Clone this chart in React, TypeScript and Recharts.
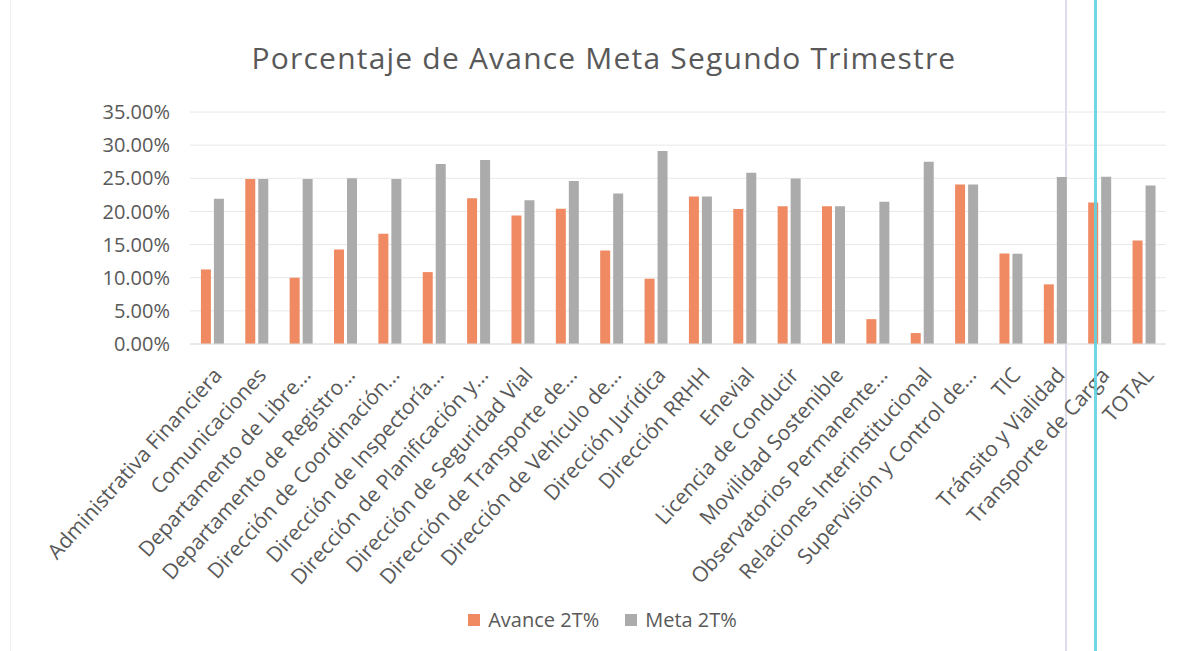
import React from 'react';
import { BarChart, Bar, XAxis, YAxis, CartesianGrid, Legend } from 'recharts';

const categories = [
  'Administrativa Financiera',
  'Comunicaciones',
  'Departamento de Libre...',
  'Departamento de Registro...',
  'Dirección de Coordinación...',
  'Dirección de Inspectoría...',
  'Dirección de Planificación y...',
  'Dirección de Seguridad Vial',
  'Dirección de Transporte de...',
  'Dirección de Vehículo de...',
  'Dirección Jurídica',
  'Dirección RRHH',
  'Enevial',
  'Licencia de Conducir',
  'Movilidad Sostenible',
  'Observatorios Permanente...',
  'Relaciones Interinstitucional',
  'Supervisión y Control de...',
  'TIC',
  'Tránsito y Vialidad',
  'Transporte de Carga',
  'TOTAL',
];

// Avance 2T% (percent)
const avance = [11.25, 24.9, 10.0, 14.25, 16.65, 10.85, 22.0, 19.4, 20.4, 14.1, 9.85, 22.25, 20.35, 20.8, 20.8, 3.75, 1.65, 24.05, 13.65, 9.0, 21.35, 15.6];
// Meta 2T% (percent)
const meta = [21.9, 24.9, 24.9, 25.0, 24.9, 27.15, 27.75, 21.7, 24.6, 22.7, 29.1, 22.25, 25.85, 24.95, 20.8, 21.45, 27.5, 24.05, 13.6, 25.2, 25.25, 23.9];

const yTicks = [0, 5, 10, 15, 20, 25, 30, 35];

const seriesNames = { avance: 'Avance 2T%', meta: 'Meta 2T%' };
const colors = { avance: '#EF8A62', meta: '#ABABAB' };

const data = categories.map((name, i) => ({ name, avance: avance[i], meta: meta[i] }));

const textColor = '#595959';
const font = '"Open Sans", sans-serif';

const CategoryTick = ({ x, y, payload }: any) => (
  <g transform={`translate(${x + 11},${y + 24})`}>
    <text textAnchor="end" transform="rotate(-48)" fill={textColor} fontSize={21} fontFamily={font}>
      {payload.value}
    </text>
  </g>
);

const LegendContent = () => (
  <div style={{ display: 'flex', justifyContent: 'center', alignItems: 'center', gap: 26, fontFamily: font, fontSize: 20, color: textColor }}>
    {(['avance', 'meta'] as const).map(k => (
      <div key={k} style={{ display: 'flex', alignItems: 'center', gap: 8 }}>
        <span style={{ width: 12, height: 12, background: colors[k], display: 'inline-block' }} />
        {seriesNames[k]}
      </div>
    ))}
  </div>
);

export default function App() {
  return (
    <div style={{ position: 'absolute', left: 0, top: 0, width: 1178, height: 651, background: '#fff', fontFamily: font }}>
      {/* scan border + artifacts */}
      <div style={{ position: 'absolute', left: 10, top: 0, width: 1, height: 651, background: '#EFEFEF' }} />
      <div style={{ position: 'absolute', left: 1065, top: 0, width: 2, height: 651, background: '#DCDCEC' }} />
      <div style={{ position: 'absolute', left: 1094, top: 0, width: 3, height: 651, background: '#5FD3E3', zIndex: 2, opacity: 0.9 }} />

      <div style={{ position: 'absolute', left: 0, top: 37, width: 1208, textAlign: 'center', fontSize: 30, letterSpacing: 1.2, color: textColor }}>
        Porcentaje de Avance Meta Segundo Trimestre
      </div>

      <BarChart
        width={1178}
        height={651}
        data={data}
        margin={{ top: 112, right: 12, left: 0, bottom: 0 }}
        barCategoryGap="24.6%"
        barGap={3}
      >
        <CartesianGrid vertical={false} stroke="#E8E8E8" />
        <XAxis
          dataKey="name"
          interval={0}
          tickLine={false}
          axisLine={{ stroke: '#E0E0E0' }}
          height={307}
          tick={<CategoryTick />}
        />
        <YAxis
          width={190}
          domain={[0, 35]}
          ticks={yTicks}
          axisLine={false}
          tickLine={false}
          tickFormatter={(v: number) => `${v.toFixed(2)}%`}
          tick={{ fill: textColor, fontSize: 20, fontFamily: font }}
          tickMargin={14}
        />
        <Legend
          verticalAlign="middle"
          align="center"
          content={<LegendContent />}
          wrapperStyle={{ top: 606, left: 0, width: 1205 }}
        />
        <Bar dataKey="avance" name={seriesNames.avance} fill={colors.avance} isAnimationActive={false} />
        <Bar dataKey="meta" name={seriesNames.meta} fill={colors.meta} isAnimationActive={false} />
      </BarChart>
    </div>
  );
}
